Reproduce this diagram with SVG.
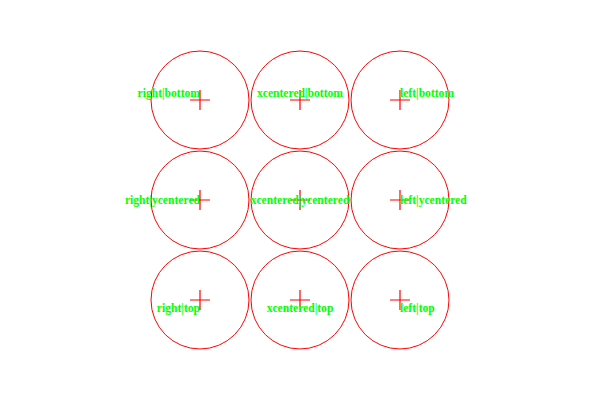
<svg xmlns="http://www.w3.org/2000/svg" width="600" height="400" viewBox="0 0 600 400">
<style>
.c{fill:none;stroke:#ff0000;stroke-width:1}
.x{stroke:#ff0000;stroke-width:1.2;fill:none}
.t{font-family:"Liberation Serif","Times New Roman",serif;font-weight:bold;font-size:11.6px;fill:#00ff00}
</style>
<rect width="600" height="400" fill="#ffffff"/>
<g id="n1"><circle class="c" cx="200" cy="100" r="49"/><path class="x" d="M190 100H210M200 90V110"/><text class="t" x="200" y="97" text-anchor="end">right|bottom</text></g>
<g id="n2"><circle class="c" cx="300" cy="100" r="49"/><path class="x" d="M290 100H310M300 90V110"/><text class="t" x="300" y="97" text-anchor="middle">xcentered|bottom</text></g>
<g id="n3"><circle class="c" cx="400" cy="100" r="49"/><path class="x" d="M390 100H410M400 90V110"/><text class="t" x="400" y="97" text-anchor="start">left|bottom</text></g>
<g id="n4"><circle class="c" cx="200" cy="200" r="49"/><path class="x" d="M190 200H210M200 190V210"/><text class="t" x="200" y="204" text-anchor="end">right|ycentered</text></g>
<g id="n5"><circle class="c" cx="300" cy="200" r="49"/><path class="x" d="M290 200H310M300 190V210"/><text class="t" x="300" y="204" text-anchor="middle">xcentered|ycentered</text></g>
<g id="n6"><circle class="c" cx="400" cy="200" r="49"/><path class="x" d="M390 200H410M400 190V210"/><text class="t" x="400" y="204" text-anchor="start">left|ycentered</text></g>
<g id="n7"><circle class="c" cx="200" cy="300" r="49"/><path class="x" d="M190 300H210M200 290V310"/><text class="t" x="200" y="312" text-anchor="end">right|top</text></g>
<g id="n8"><circle class="c" cx="300" cy="300" r="49"/><path class="x" d="M290 300H310M300 290V310"/><text class="t" x="300" y="312" text-anchor="middle">xcentered|top</text></g>
<g id="n9"><circle class="c" cx="400" cy="300" r="49"/><path class="x" d="M390 300H410M400 290V310"/><text class="t" x="400" y="312" text-anchor="start">left|top</text></g>
<g id="connectors"></g>
</svg>
